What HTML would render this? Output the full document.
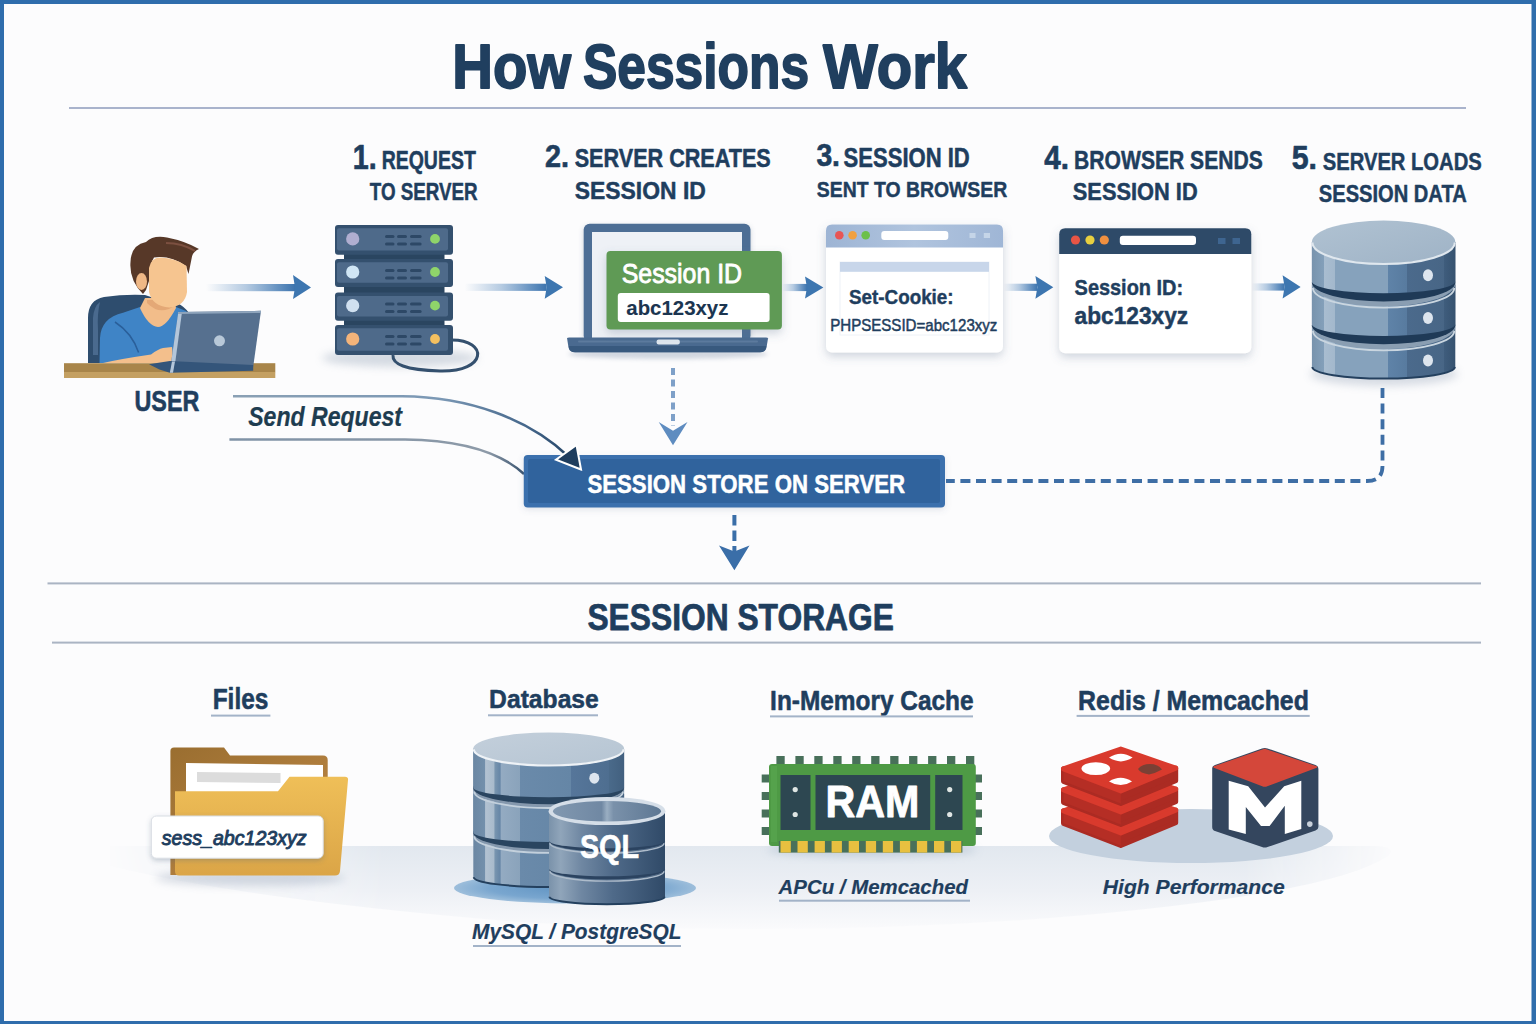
<!DOCTYPE html>
<html><head><meta charset="utf-8"><title>How Sessions Work</title>
<style>
html,body{margin:0;padding:0;width:1536px;height:1024px;overflow:hidden;background:#fcfcfd;}
svg{display:block;font-family:"Liberation Sans",sans-serif;}
</style></head><body>
<svg width="1536" height="1024" viewBox="0 0 1536 1024">
<defs>
<filter id="blur2" x="-50%" y="-50%" width="200%" height="200%"><feGaussianBlur stdDeviation="2"/></filter>
<filter id="blur4" x="-50%" y="-50%" width="200%" height="200%"><feGaussianBlur stdDeviation="4"/></filter>
<filter id="blur8" x="-50%" y="-50%" width="200%" height="200%"><feGaussianBlur stdDeviation="8"/></filter>
<filter id="blur14" x="-50%" y="-50%" width="200%" height="200%"><feGaussianBlur stdDeviation="14"/></filter>
<filter id="shadow" x="-20%" y="-20%" width="140%" height="150%"><feDropShadow dx="0" dy="4" stdDeviation="5" flood-color="#5a6f8a" flood-opacity="0.28"/></filter>
<filter id="shadowSoft" x="-20%" y="-20%" width="140%" height="150%"><feDropShadow dx="0" dy="2" stdDeviation="3" flood-color="#5a6f8a" flood-opacity="0.18"/></filter>
<filter id="shadowS" x="-20%" y="-20%" width="140%" height="150%"><feDropShadow dx="0" dy="2" stdDeviation="2.5" flood-color="#4a5f7a" flood-opacity="0.3"/></filter>
<linearGradient id="arrowG" x1="0" y1="0" x2="1" y2="0">
 <stop offset="0" stop-color="#4a80b8" stop-opacity="0"/>
 <stop offset="0.45" stop-color="#4a80b8" stop-opacity="0.4"/>
 <stop offset="0.8" stop-color="#4279b3" stop-opacity="0.8"/>
 <stop offset="1" stop-color="#3d74ae" stop-opacity="1"/>
</linearGradient>
<linearGradient id="dbG" x1="0" y1="0" x2="1" y2="0">
 <stop offset="0" stop-color="#7893ad"/>
 <stop offset="0.085" stop-color="#84a0ba"/>
 <stop offset="0.086" stop-color="#a9bdd0"/>
 <stop offset="0.16" stop-color="#a3b8cc"/>
 <stop offset="0.161" stop-color="#86a2bc"/>
 <stop offset="0.53" stop-color="#86a2bc"/>
 <stop offset="0.531" stop-color="#5f83a8"/>
 <stop offset="0.66" stop-color="#587b9f"/>
 <stop offset="0.661" stop-color="#4b6a8c"/>
 <stop offset="0.92" stop-color="#486686"/>
 <stop offset="0.921" stop-color="#3f5d7d"/>
 <stop offset="1" stop-color="#36526f"/>
</linearGradient>
<linearGradient id="dbG2" x1="0" y1="0" x2="1" y2="0">
 <stop offset="0" stop-color="#6b87a3"/>
 <stop offset="0.08" stop-color="#7390ac"/>
 <stop offset="0.081" stop-color="#b2c2d2"/>
 <stop offset="0.14" stop-color="#a8bacb"/>
 <stop offset="0.141" stop-color="#7a96b0"/>
 <stop offset="0.18" stop-color="#6585a6"/>
 <stop offset="0.181" stop-color="#94abc2"/>
 <stop offset="0.31" stop-color="#8aa3bb"/>
 <stop offset="0.311" stop-color="#6a8aaa"/>
 <stop offset="0.65" stop-color="#6586a6"/>
 <stop offset="0.651" stop-color="#56769a"/>
 <stop offset="0.9" stop-color="#4e6e90"/>
 <stop offset="0.901" stop-color="#4a6a8a"/>
 <stop offset="1" stop-color="#42607f"/>
</linearGradient>
<linearGradient id="dbTopG2" x1="0" y1="0" x2="1" y2="1">
 <stop offset="0" stop-color="#c3cfdb"/>
 <stop offset="1" stop-color="#b6c5d3"/>
</linearGradient>
<linearGradient id="sqlTopG" x1="0" y1="0" x2="1" y2="0">
 <stop offset="0" stop-color="#8198b0"/>
 <stop offset="0.45" stop-color="#7088a3"/>
 <stop offset="0.5" stop-color="#9aaec2"/>
 <stop offset="0.56" stop-color="#7a91aa"/>
 <stop offset="1" stop-color="#5d7793"/>
</linearGradient>
<linearGradient id="dbTopG" x1="0" y1="0" x2="1" y2="1">
 <stop offset="0" stop-color="#b0c2d2"/>
 <stop offset="1" stop-color="#9fb3c6"/>
</linearGradient>
<linearGradient id="sqlG" x1="0" y1="0" x2="1" y2="0">
 <stop offset="0" stop-color="#7a92aa"/>
 <stop offset="0.1" stop-color="#90a5ba"/>
 <stop offset="0.28" stop-color="#6f87a2"/>
 <stop offset="0.55" stop-color="#4f6a89"/>
 <stop offset="1" stop-color="#304a68"/>
</linearGradient>
<linearGradient id="curveG1" x1="233" y1="0" x2="580" y2="0" gradientUnits="userSpaceOnUse">
 <stop offset="0" stop-color="#8aa0b4"/>
 <stop offset="0.6" stop-color="#7b98b5"/>
 <stop offset="0.85" stop-color="#44668a"/>
 <stop offset="1" stop-color="#1e3d5e"/>
</linearGradient>
<linearGradient id="curveG2" x1="229" y1="0" x2="523" y2="0" gradientUnits="userSpaceOnUse">
 <stop offset="0" stop-color="#7f92a6"/>
 <stop offset="0.88" stop-color="#8d9aa8"/>
 <stop offset="1" stop-color="#3a5470"/>
</linearGradient>
<linearGradient id="platG" x1="0" y1="0" x2="0" y2="1">
 <stop offset="0" stop-color="#e3e9f0"/>
 <stop offset="1" stop-color="#fcfcfd" stop-opacity="0"/>
</linearGradient>
<linearGradient id="b1G" x1="0" y1="0" x2="1" y2="0">
 <stop offset="0" stop-color="#9db4d4"/>
 <stop offset="0.5" stop-color="#b0c4de"/>
 <stop offset="1" stop-color="#9fb6d6"/>
</linearGradient>
<linearGradient id="deskG" x1="0" y1="0" x2="0" y2="1">
 <stop offset="0" stop-color="#b8955a"/>
 <stop offset="0.6" stop-color="#a8864e"/>
 <stop offset="1" stop-color="#c8a468"/>
</linearGradient>
<linearGradient id="folderBackG" x1="0" y1="0" x2="1" y2="1">
 <stop offset="0" stop-color="#9a6e30"/>
 <stop offset="1" stop-color="#c08a48"/>
</linearGradient>
<linearGradient id="folderFrontG" x1="0" y1="0" x2="0" y2="1">
 <stop offset="0" stop-color="#efbf58"/>
 <stop offset="1" stop-color="#dba547"/>
</linearGradient>
</defs>
<rect x="0" y="0" width="1536" height="1024" fill="#2f6dac"/>
<rect x="4" y="4" width="1527.5" height="1017" fill="#fcfcfd"/>
<text x="452.3" y="87.6" font-size="63.37" font-weight="bold" font-style="normal" fill="#203f5f" stroke="#203f5f" stroke-width="1.80" stroke-linejoin="round" textLength="118.8" lengthAdjust="spacingAndGlyphs" >How</text>
<text x="583.0" y="87.6" font-size="63.37" font-weight="bold" font-style="normal" fill="#203f5f" stroke="#203f5f" stroke-width="1.80" stroke-linejoin="round" textLength="226.0" lengthAdjust="spacingAndGlyphs" >Sessions</text>
<text x="823.0" y="87.6" font-size="63.37" font-weight="bold" font-style="normal" fill="#203f5f" stroke="#203f5f" stroke-width="1.80" stroke-linejoin="round" textLength="144.0" lengthAdjust="spacingAndGlyphs" >Work</text>
<rect x="69" y="107" width="1397" height="2" fill="#a9b3cc"/>
<text x="352.8" y="168.6" font-size="34.95" font-weight="bold" font-style="normal" fill="#1f3e5e" stroke="#1f3e5e" stroke-width="0.71" stroke-linejoin="round" textLength="23.9" lengthAdjust="spacingAndGlyphs" >1.</text>
<text x="381.7" y="168.7" font-size="25.78" font-weight="bold" font-style="normal" fill="#1f3e5e" stroke="#1f3e5e" stroke-width="0.52" stroke-linejoin="round" textLength="94.1" lengthAdjust="spacingAndGlyphs" >REQUEST</text>
<text x="369.8" y="199.8" font-size="23.49" font-weight="bold" font-style="normal" fill="#1f3e5e" stroke="#1f3e5e" stroke-width="0.48" stroke-linejoin="round" textLength="107.9" lengthAdjust="spacingAndGlyphs" >TO SERVER</text>
<text x="544.9" y="167.2" font-size="30.80" font-weight="bold" font-style="normal" fill="#1f3e5e" stroke="#1f3e5e" stroke-width="0.63" stroke-linejoin="round" textLength="24.0" lengthAdjust="spacingAndGlyphs" >2.</text>
<text x="574.7" y="166.7" font-size="25.78" font-weight="bold" font-style="normal" fill="#1f3e5e" stroke="#1f3e5e" stroke-width="0.52" stroke-linejoin="round" textLength="196.1" lengthAdjust="spacingAndGlyphs" >SERVER CREATES</text>
<text x="574.8" y="198.8" font-size="24.35" font-weight="bold" font-style="normal" fill="#1f3e5e" stroke="#1f3e5e" stroke-width="0.49" stroke-linejoin="round" textLength="131.0" lengthAdjust="spacingAndGlyphs" >SESSION ID</text>
<text x="816.4" y="166.3" font-size="31.51" font-weight="bold" font-style="normal" fill="#1f3e5e" stroke="#1f3e5e" stroke-width="0.64" stroke-linejoin="round" textLength="23.6" lengthAdjust="spacingAndGlyphs" >3.</text>
<text x="843.6" y="166.7" font-size="27.21" font-weight="bold" font-style="normal" fill="#1f3e5e" stroke="#1f3e5e" stroke-width="0.55" stroke-linejoin="round" textLength="126.2" lengthAdjust="spacingAndGlyphs" >SESSION ID</text>
<text x="816.8" y="196.8" font-size="22.92" font-weight="bold" font-style="normal" fill="#1f3e5e" stroke="#1f3e5e" stroke-width="0.47" stroke-linejoin="round" textLength="190.4" lengthAdjust="spacingAndGlyphs" >SENT TO BROWSER</text>
<text x="1044.3" y="168.7" font-size="32.94" font-weight="bold" font-style="normal" fill="#1f3e5e" stroke="#1f3e5e" stroke-width="0.67" stroke-linejoin="round" textLength="24.7" lengthAdjust="spacingAndGlyphs" >4.</text>
<text x="1074.1" y="168.7" font-size="25.78" font-weight="bold" font-style="normal" fill="#1f3e5e" stroke="#1f3e5e" stroke-width="0.52" stroke-linejoin="round" textLength="188.7" lengthAdjust="spacingAndGlyphs" >BROWSER SENDS</text>
<text x="1072.8" y="199.8" font-size="23.49" font-weight="bold" font-style="normal" fill="#1f3e5e" stroke="#1f3e5e" stroke-width="0.48" stroke-linejoin="round" textLength="124.9" lengthAdjust="spacingAndGlyphs" >SESSION ID</text>
<text x="1291.7" y="169.2" font-size="32.66" font-weight="bold" font-style="normal" fill="#1f3e5e" stroke="#1f3e5e" stroke-width="0.66" stroke-linejoin="round" textLength="25.3" lengthAdjust="spacingAndGlyphs" >5.</text>
<text x="1322.8" y="169.8" font-size="23.78" font-weight="bold" font-style="normal" fill="#1f3e5e" stroke="#1f3e5e" stroke-width="0.48" stroke-linejoin="round" textLength="158.9" lengthAdjust="spacingAndGlyphs" >SERVER LOADS</text>
<text x="1318.8" y="201.6" font-size="23.06" font-weight="bold" font-style="normal" fill="#1f3e5e" stroke="#1f3e5e" stroke-width="0.47" stroke-linejoin="round" textLength="147.9" lengthAdjust="spacingAndGlyphs" >SESSION DATA</text>
<rect x="206" y="284.0" width="89" height="7.2" fill="url(#arrowG)"/>
<polygon points="293,275 311,287.6 293,299 295,287.6" fill="#3d76b0"/>
<rect x="464.7" y="283.7" width="82.00000000000006" height="7.2" fill="url(#arrowG)"/>
<polygon points="544.7,276 563,287.3 544.7,298.8 546.7,287.3" fill="#3d76b0"/>
<rect x="782" y="283.9" width="25" height="7.2" fill="url(#arrowG)"/>
<polygon points="805,276.5 823.4,287.5 805,298.4 807,287.5" fill="#3d76b0"/>
<rect x="1003.7" y="283.7" width="33.700000000000045" height="7.2" fill="url(#arrowG)"/>
<polygon points="1035.4,276 1053.3,287.3 1035.4,298.7 1037.4,287.3" fill="#3d76b0"/>
<rect x="1251.7" y="283.4" width="32.899999999999864" height="7.2" fill="url(#arrowG)"/>
<polygon points="1282.6,275.2 1300.6,287 1282.6,298.6 1284.6,287" fill="#3d76b0"/>
<g id="user">
<path d="M88 363 L88 318 Q88 300 104 297 Q125 294 145 295 L160 300 Q180 300 189 313 L189 363 Z" fill="#2e4d6e"/>
<path d="M93 355 L93 318 Q94 306 100 302 Q97 314 98 330 L98 355 Z" fill="#4a6a8e"/>
<path d="M99.5 363 L100 338 Q101 318 123 312.8 L140 307 Q158 322 176 307 L186 311 Q194 320 190 345 L188 363 Z" fill="#3f84c6"/>
<path d="M115 322 Q132 333 138.6 352.5" stroke="#2a5f9a" stroke-width="1.5" fill="none"/>
<path d="M145 298 L174 298 L176 308 Q166 327 158 327 Q148 326 140 308 Z" fill="#f2bd8a"/>
<path d="M147 303 Q160 316 174 306 L174 300 L147 300 Z" fill="#e0a270" opacity="0.8"/>
<path d="M103 363 Q120 359 151 354.5 Q158 349 163 348 L172 347 L174 363 Z" fill="#f3bf8c"/>
<path d="M143 294 Q129 280 130.5 262 Q131 245 146 242 Q153 235 167 237.5 Q185 241 199 249 Q192 252 191.5 259 L188.5 274 L186 266 Q170 255 154 257.5 Q150 263 149 281 L146 290 Z" fill="#573828"/>
<path d="M166 243 Q182 243 195 251" stroke="#7c5040" stroke-width="2" fill="none"/>
<path d="M149 268 Q151 257.5 160 257.5 Q176 258 186.5 266 L187 292 Q185 306 169.4 307.6 Q152 306 149 292 Z" fill="#f6c590"/>
<ellipse cx="141.5" cy="281.6" rx="5.5" ry="8.5" fill="#efb886"/>
<rect x="64" y="363.2" width="211.3" height="9" fill="#a8854a"/>
<rect x="64" y="372" width="211.3" height="6" fill="#c4a062"/>
<polygon points="178.3,312.1 261,310.8 253.2,366.8 169.8,372" fill="#56708f"/>
<polygon points="169.8,372 178.3,312.1 182,312 174,371.5" fill="#b4c6da"/>
<polygon points="178.3,312.1 261,310.8 261,313 178,314" fill="#8ea4bc"/>
<polygon points="149,364.2 169.8,361 253.2,364.9 253.2,370.7 169.8,372.7 159.4,369.4" fill="#34557a"/>
<polygon points="169.8,372.7 172,361.5 175,361.5 173,372.7" fill="#b4c6da"/>
<ellipse cx="219.5" cy="340.8" rx="5.5" ry="5.5" fill="#b8c8d8"/>
</g>
<text x="134.5" y="411.4" font-size="28.65" font-weight="bold" font-style="normal" fill="#1f3e5e" stroke="#1f3e5e" stroke-width="0.58" stroke-linejoin="round" textLength="64.9" lengthAdjust="spacingAndGlyphs" >USER</text>
<ellipse cx="400" cy="358" rx="78" ry="9" fill="#8a9bb0" opacity="0.35" filter="url(#blur4)"/>
<path d="M452 340 C488 340 488 372 440 371 C405 370 392 364 393 355" stroke="#34506e" stroke-width="3" fill="none"/>
<rect x="344" y="252.8" width="100.5" height="8.199999999999989" fill="#2a4560"/>
<rect x="344" y="285" width="100.5" height="9.600000000000023" fill="#2a4560"/>
<rect x="344" y="318.7" width="100.5" height="8.300000000000011" fill="#2a4560"/>
<rect x="335" y="225" width="118" height="29.80000000000001" rx="3" fill="#34506e"/>
<rect x="337" y="228.3" width="111" height="22.30000000000001" rx="2" fill="#4e6a8a"/>
<circle cx="352.7" cy="238.9" r="6.6" fill="#b0aed0"/>
<circle cx="435" cy="238.9" r="4.9" fill="#8fd46a"/>
<rect x="385" y="235" width="9.5" height="3" rx="1.5" fill="#2d4866"/>
<rect x="385" y="242.5" width="9.5" height="3" rx="1.5" fill="#2d4866"/>
<rect x="397" y="235" width="10" height="3" rx="1.5" fill="#2d4866"/>
<rect x="397" y="242.5" width="10" height="3" rx="1.5" fill="#2d4866"/>
<rect x="410" y="235" width="11.600000000000023" height="3" rx="1.5" fill="#2d4866"/>
<rect x="410" y="242.5" width="11.600000000000023" height="3" rx="1.5" fill="#2d4866"/>
<rect x="335" y="259" width="118" height="28" rx="3" fill="#34506e"/>
<rect x="337" y="262.3" width="111" height="20.5" rx="2" fill="#4e6a8a"/>
<circle cx="352.7" cy="272.0" r="6.6" fill="#d0e6f5"/>
<circle cx="435" cy="272.0" r="4.9" fill="#8fd46a"/>
<rect x="385" y="269" width="9.5" height="3" rx="1.5" fill="#2d4866"/>
<rect x="385" y="276.5" width="9.5" height="3" rx="1.5" fill="#2d4866"/>
<rect x="397" y="269" width="10" height="3" rx="1.5" fill="#2d4866"/>
<rect x="397" y="276.5" width="10" height="3" rx="1.5" fill="#2d4866"/>
<rect x="410" y="269" width="11.600000000000023" height="3" rx="1.5" fill="#2d4866"/>
<rect x="410" y="276.5" width="11.600000000000023" height="3" rx="1.5" fill="#2d4866"/>
<rect x="335" y="292.6" width="118" height="28.099999999999966" rx="3" fill="#34506e"/>
<rect x="337" y="295.90000000000003" width="111" height="20.599999999999966" rx="2" fill="#4e6a8a"/>
<circle cx="352.7" cy="305.65" r="6.6" fill="#d0e0f0"/>
<circle cx="435" cy="305.65" r="4.9" fill="#8fd46a"/>
<rect x="385" y="302.6" width="9.5" height="3" rx="1.5" fill="#2d4866"/>
<rect x="385" y="310.1" width="9.5" height="3" rx="1.5" fill="#2d4866"/>
<rect x="397" y="302.6" width="10" height="3" rx="1.5" fill="#2d4866"/>
<rect x="397" y="310.1" width="10" height="3" rx="1.5" fill="#2d4866"/>
<rect x="410" y="302.6" width="11.600000000000023" height="3" rx="1.5" fill="#2d4866"/>
<rect x="410" y="310.1" width="11.600000000000023" height="3" rx="1.5" fill="#2d4866"/>
<rect x="335" y="325" width="118" height="30" rx="3" fill="#34506e"/>
<rect x="337" y="328.3" width="111" height="22.5" rx="2" fill="#4e6a8a"/>
<circle cx="352.7" cy="339.0" r="6.6" fill="#f4b47a"/>
<circle cx="435" cy="339.0" r="4.9" fill="#f4c060"/>
<rect x="385" y="335" width="9.5" height="3" rx="1.5" fill="#2d4866"/>
<rect x="385" y="342.5" width="9.5" height="3" rx="1.5" fill="#2d4866"/>
<rect x="397" y="335" width="10" height="3" rx="1.5" fill="#2d4866"/>
<rect x="397" y="342.5" width="10" height="3" rx="1.5" fill="#2d4866"/>
<rect x="410" y="335" width="11.600000000000023" height="3" rx="1.5" fill="#2d4866"/>
<rect x="410" y="342.5" width="11.600000000000023" height="3" rx="1.5" fill="#2d4866"/>
<g filter="url(#shadowS)">
<rect x="583.7" y="223.7" width="166.8" height="118" rx="6" fill="#4d6e95"/>
</g>
<rect x="592" y="232" width="150" height="108" fill="#eef1f6"/>
<ellipse cx="668" cy="354" rx="100" ry="5" fill="#8090a8" opacity="0.35" filter="url(#blur2)"/>
<path d="M567 337.9 Q567 337.6 569 337.6 L766 337.6 Q768 337.6 768 338.5 L766.5 347.5 Q765.5 352.2 760 352.2 L575 352.2 Q569.5 352.2 568.5 347.5 Z" fill="#4a6a90"/>
<path d="M568.8 346 L766.3 346 L765.8 348.5 Q764.8 352.2 760 352.2 L575 352.2 Q570 352.2 569.2 348.5 Z" fill="#38597e"/>
<rect x="578" y="340.5" width="180" height="2" rx="1" fill="#6a87a8" opacity="0.6"/>
<rect x="656.6" y="339.5" width="23.2" height="5" rx="2" fill="#dfe6ee"/>
<g filter="url(#shadow)"><rect x="606.5" y="251" width="175.4" height="78.4" rx="4" fill="#5e9a55"/></g>
<rect x="617.8" y="293" width="151.8" height="29" rx="3" fill="#ffffff"/>
<text x="621.7" y="282.6" font-size="27.30" font-weight="normal" font-style="normal" fill="#ffffff" stroke="#ffffff" stroke-width="0.84" stroke-linejoin="round" textLength="120.4" lengthAdjust="spacingAndGlyphs" >Session ID</text>
<text x="626.3" y="314.8" font-size="20.34" font-weight="bold" font-style="normal" fill="#1b3550" stroke="#1b3550" stroke-width="0.10" stroke-linejoin="round" textLength="102.1" lengthAdjust="spacingAndGlyphs" >abc123xyz</text>
<line x1="673" y1="368" x2="673" y2="426" stroke="#7ea0c8" stroke-width="4" stroke-dasharray="7 4.5"/>
<polygon points="658.7,422 673,445.2 687.5,422 673,430.8" fill="#5e8cc0"/>
<g filter="url(#shadow)"><rect x="826" y="224.6" width="177" height="127.8" rx="6" fill="#ffffff"/></g>
<path d="M826 247.4 L826 230.6 Q826 224.6 832 224.6 L997 224.6 Q1003 224.6 1003 230.6 L1003 247.4 Z" fill="url(#b1G)"/>
<circle cx="839.3" cy="235.2" r="4.3" fill="#e85555"/>
<circle cx="852.6" cy="235.2" r="4.3" fill="#f0a040"/>
<circle cx="865.7" cy="235.2" r="4.3" fill="#6cc04a"/>
<rect x="881.3" y="231" width="67" height="9" rx="3" fill="#ffffff"/>
<rect x="969.5" y="233" width="6" height="5" fill="#c5d5e8"/>
<rect x="983.8" y="233" width="6.2" height="5" fill="#c5d5e8"/>
<rect x="840" y="262" width="149" height="73" fill="none" stroke="#eef2f7" stroke-width="1"/>
<rect x="840" y="262" width="149" height="9.8" fill="#c8d6ea"/>
<text x="849.0" y="304.2" font-size="19.77" font-weight="bold" font-style="normal" fill="#1f3e5e" stroke="#1f3e5e" stroke-width="0.40" stroke-linejoin="round" textLength="104.6" lengthAdjust="spacingAndGlyphs" >Set-Cookie:</text>
<text x="830.2" y="330.5" font-size="16.78" font-weight="normal" font-style="normal" fill="#1f3e5e" stroke="#1f3e5e" stroke-width="0.51" stroke-linejoin="round" textLength="167.2" lengthAdjust="spacingAndGlyphs" >PHPSESSID=abc123xyz</text>
<g filter="url(#shadow)"><rect x="1059.2" y="228.2" width="192.1" height="125" rx="6" fill="#ffffff"/></g>
<path d="M1059.2 254 L1059.2 234.2 Q1059.2 228.2 1065.2 228.2 L1245.3 228.2 Q1251.3 228.2 1251.3 234.2 L1251.3 254 Z" fill="#2e4a68"/>
<circle cx="1075.5" cy="240" r="4.6" fill="#e85545"/>
<circle cx="1090" cy="240" r="4.6" fill="#e8d040"/>
<circle cx="1104.3" cy="240" r="4.6" fill="#f09040"/>
<rect x="1119.8" y="235.7" width="76.2" height="9.3" rx="3" fill="#ffffff"/>
<rect x="1218" y="238" width="7.5" height="6" fill="#3e6590"/>
<rect x="1232.5" y="238" width="7.5" height="6" fill="#3e6590"/>
<text x="1074.6" y="294.8" font-size="22.92" font-weight="bold" font-style="normal" fill="#1f3e5e" stroke="#1f3e5e" stroke-width="0.47" stroke-linejoin="round" textLength="108.5" lengthAdjust="spacingAndGlyphs" >Session ID:</text>
<text x="1074.6" y="323.8" font-size="24.47" font-weight="bold" font-style="normal" fill="#1f3e5e" stroke="#1f3e5e" stroke-width="0.50" stroke-linejoin="round" textLength="113.5" lengthAdjust="spacingAndGlyphs" >abc123xyz</text>
<ellipse cx="1384" cy="374" rx="74" ry="12" fill="#7f90a8" opacity="0.3" filter="url(#blur4)"/>
<path d="M1311.8999999999999 284.7 L1311.8999999999999 367.0 A71.7 11.6 0 0 0 1455.3 367.0 L1455.3 284.7 Z" fill="url(#dbG)"/>
<path d="M1312.3999999999999 367.0 A71.2 11.6 0 0 0 1454.8 367.0" stroke="#24405e" stroke-width="2" fill="none"/>
<ellipse cx="1383.6" cy="326.50" rx="71.7" ry="22.70" fill="#8a9eb2"/>
<ellipse cx="1383.6" cy="325.20" rx="71.7" ry="19.00" fill="#1f3a57"/>
<path d="M1312.8999999999999 330.70 A70.7 19.60 0 0 0 1454.3 330.70" stroke="#cad6e0" stroke-width="1.8" fill="none"/>
<ellipse cx="1428" cy="360.6" rx="5" ry="6" fill="#dde5ee"/>
<path d="M1311.8999999999999 242.0 L1311.8999999999999 324.3 A71.7 11.6 0 0 0 1455.3 324.3 L1455.3 242.0 Z" fill="url(#dbG)"/>
<ellipse cx="1383.6" cy="283.80" rx="71.7" ry="22.70" fill="#8a9eb2"/>
<ellipse cx="1383.6" cy="282.50" rx="71.7" ry="19.00" fill="#1f3a57"/>
<path d="M1312.8999999999999 288.00 A70.7 19.60 0 0 0 1454.3 288.00" stroke="#cad6e0" stroke-width="1.8" fill="none"/>
<ellipse cx="1428" cy="317.9" rx="5" ry="6" fill="#dde5ee"/>
<path d="M1311.8999999999999 242.0 L1311.8999999999999 281.6 A71.7 11.6 0 0 0 1455.3 281.6 L1455.3 242.0 Z" fill="url(#dbG)"/>
<ellipse cx="1383.6" cy="242.0" rx="71.7" ry="21.5" fill="url(#dbTopG)"/>
<path d="M1312.3999999999999 242.5 A71.2 21.5 0 0 0 1454.8 242.5" stroke="#dfe7ee" stroke-width="2.2" fill="none"/>
<ellipse cx="1428" cy="275.2" rx="5" ry="6" fill="#dde5ee"/>
<path d="M1382.5 388 L1382.5 466 Q1382.5 481 1367 481 L946 481" stroke="#3e6ea5" stroke-width="3.8" fill="none" stroke-dasharray="10 5.6"/>
<path d="M229.4 439.4 L405 439.4 C455 440 498 450 524 474" stroke="url(#curveG2)" stroke-width="2.5" fill="none"/>
<g filter="url(#shadowSoft)"><rect x="523.75" y="455" width="421.25" height="52.5" rx="4" fill="#3a70ad"/></g>
<rect x="528" y="459" width="412" height="44" rx="2" fill="#30639d"/>
<text x="587.4" y="492.5" font-size="25.78" font-weight="bold" font-style="normal" fill="#ffffff" stroke="#ffffff" stroke-width="0.52" stroke-linejoin="round" textLength="317.7" lengthAdjust="spacingAndGlyphs" >SESSION STORE ON SERVER</text>
<path d="M233 396.3 L402 396.3 C468 397 528 418 569 457" stroke="url(#curveG1)" stroke-width="2.6" fill="none"/>
<polygon points="581,469.5 556,459.7 576.5,445" fill="#1e3d5e" stroke="#ffffff" stroke-width="2" stroke-linejoin="miter"/>
<text x="248.2" y="425.9" font-size="26.73" font-weight="bold" font-style="italic" fill="#1e3c50" stroke="#1e3c50" stroke-width="0.22" stroke-linejoin="round" textLength="153.8" lengthAdjust="spacingAndGlyphs" >Send Request</text>
<line x1="734.4" y1="515" x2="734.4" y2="552" stroke="#3a6ea8" stroke-width="4" stroke-dasharray="10.5 5"/>
<polygon points="719,545.5 734.4,570.3 749.5,545.5 734.4,551.5" fill="#3a6ea8"/>
<rect x="47.5" y="582.4" width="1433.5" height="2" fill="#aab4c3"/>
<rect x="52" y="641.6" width="1429" height="2" fill="#aab4c3"/>
<text x="587.4" y="630.1" font-size="36.95" font-weight="bold" font-style="normal" fill="#1f3e5e" stroke="#1f3e5e" stroke-width="0.75" stroke-linejoin="round" textLength="306.5" lengthAdjust="spacingAndGlyphs" >SESSION STORAGE</text>
<defs><linearGradient id="platMaskG" x1="100" y1="0" x2="1400" y2="0" gradientUnits="userSpaceOnUse"><stop offset="0" stop-color="#000"/><stop offset="0.22" stop-color="#fff"/><stop offset="0.88" stop-color="#fff"/><stop offset="1" stop-color="#000"/></linearGradient>
<mask id="platMask" maskUnits="userSpaceOnUse" x="0" y="800" width="1536" height="200"><rect x="0" y="800" width="1536" height="200" fill="url(#platMaskG)"/></mask>
<linearGradient id="platG2" x1="0" y1="846" x2="0" y2="935" gradientUnits="userSpaceOnUse"><stop offset="0" stop-color="#e2e8ef"/><stop offset="0.5" stop-color="#edf0f5"/><stop offset="1" stop-color="#fcfcfd"/></linearGradient></defs>
<path d="M110 846 L1375 846 Q1398 847 1388 856 Q1330 895 1050 918 Q780 938 520 922 Q250 900 110 866 Z" fill="url(#platG2)" mask="url(#platMask)"/>
<text x="212.7" y="709.0" font-size="29.08" font-weight="bold" font-style="normal" fill="#1f3e5e" stroke="#1f3e5e" stroke-width="0.59" stroke-linejoin="round" textLength="55.7" lengthAdjust="spacingAndGlyphs" >Files</text>
<rect x="211" y="714.6" width="59.39999999999998" height="2" fill="#a3b3c8"/>
<text x="489.1" y="707.9" font-size="26.36" font-weight="bold" font-style="normal" fill="#1f3e5e" stroke="#1f3e5e" stroke-width="0.53" stroke-linejoin="round" textLength="109.7" lengthAdjust="spacingAndGlyphs" >Database</text>
<rect x="488" y="714.3" width="110" height="2" fill="#a3b3c8"/>
<text x="770.1" y="710.0" font-size="27.93" font-weight="bold" font-style="normal" fill="#1f3e5e" stroke="#1f3e5e" stroke-width="0.57" stroke-linejoin="round" textLength="203.5" lengthAdjust="spacingAndGlyphs" >In-Memory Cache</text>
<rect x="770" y="715.4" width="203" height="2" fill="#a3b3c8"/>
<text x="1078.1" y="710.0" font-size="28.07" font-weight="bold" font-style="normal" fill="#1f3e5e" stroke="#1f3e5e" stroke-width="0.57" stroke-linejoin="round" textLength="230.8" lengthAdjust="spacingAndGlyphs" >Redis / Memcached</text>
<rect x="1076.6" y="714.9" width="233.10000000000014" height="2" fill="#a3b3c8"/>
<ellipse cx="250" cy="878" rx="95" ry="8" fill="#8090a8" opacity="0.3" filter="url(#blur4)"/>
<path d="M170.4 875 L170.4 751 Q170.4 747.5 174 747.5 L224 747.5 L230 755.4 L323 755.4 Q327.7 755.4 327.7 760 L327.7 875 Z" fill="url(#folderBackG)"/>
<polygon points="186,763 323,765 323,800 186,800" fill="#ffffff"/>
<polygon points="197,772 280.5,773 280.5,783 197,782" fill="#dcdcdc"/>
<path d="M175 791.3 L278 791.3 L289.5 776.7 L345 776.7 Q348.5 776.7 348 780 L340 871 Q339.5 875.5 335 875.5 L179 875.5 Q175 875.5 175 871 Z" fill="url(#folderFrontG)"/>
<g filter="url(#shadowS)"><rect x="151.3" y="816" width="171.9" height="42.2" rx="5" fill="#ffffff" stroke="#d8dde4" stroke-width="1"/></g>
<text x="161.8" y="844.8" font-size="19.48" font-weight="normal" font-style="italic" fill="#1f3e5e" stroke="#1f3e5e" stroke-width="0.90" stroke-linejoin="round" textLength="144.8" lengthAdjust="spacingAndGlyphs" >sess_abc123xyz</text>
<defs><radialGradient id="blueSh" cx="0.5" cy="0.5" r="0.5"><stop offset="0" stop-color="#5f93c2"/><stop offset="0.7" stop-color="#79a6cf"/><stop offset="1" stop-color="#9dbedb"/></radialGradient></defs><ellipse cx="575" cy="888" rx="121" ry="15.5" fill="url(#blueSh)"/>
<path d="M473.30000000000007 793.6999999999999 L473.30000000000007 877.1999999999999 A75.4 9.8 0 0 0 624.1 877.1999999999999 L624.1 793.6999999999999 Z" fill="url(#dbG2)"/>
<path d="M473.80000000000007 877.1999999999999 A74.9 9.8 0 0 0 623.6 877.1999999999999" stroke="#24405e" stroke-width="2" fill="none"/>
<ellipse cx="548.7" cy="833.80" rx="75.4" ry="18.30" fill="#8598ad"/>
<ellipse cx="548.7" cy="832.80" rx="75.4" ry="16.30" fill="#2a4560"/>
<path d="M474.30000000000007 836.30 A74.4 16.60 0 0 0 623.1 836.30" stroke="#c3d0dc" stroke-width="1.8" fill="none"/>
<ellipse cx="594.3" cy="868" rx="5" ry="5.5" fill="#dde5ee"/>
<path d="M473.30000000000007 748.8 L473.30000000000007 832.3 A75.4 9.8 0 0 0 624.1 832.3 L624.1 748.8 Z" fill="url(#dbG2)"/>
<ellipse cx="548.7" cy="788.90" rx="75.4" ry="18.30" fill="#8598ad"/>
<ellipse cx="548.7" cy="787.90" rx="75.4" ry="16.30" fill="#2a4560"/>
<path d="M474.30000000000007 791.40 A74.4 16.60 0 0 0 623.1 791.40" stroke="#c3d0dc" stroke-width="1.8" fill="none"/>
<ellipse cx="594.3" cy="823.1" rx="5" ry="5.5" fill="#dde5ee"/>
<path d="M473.30000000000007 748.8 L473.30000000000007 787.4 A75.4 9.8 0 0 0 624.1 787.4 L624.1 748.8 Z" fill="url(#dbG2)"/>
<ellipse cx="548.7" cy="748.8" rx="75.4" ry="16.2" fill="url(#dbTopG2)"/>
<path d="M473.80000000000007 749.3 A74.9 16.2 0 0 0 623.6 749.3" stroke="#eef2f6" stroke-width="2.2" fill="none"/>
<ellipse cx="594.3" cy="778.2" rx="5" ry="5.5" fill="#dde5ee"/>
<path d="M549 838.3 L549 896.8 A58 7.5 0 0 0 665 896.8 L665 838.3 Z" fill="url(#sqlG)"/>
<path d="M549.5 896.8 A57.5 7.5 0 0 0 664.5 896.8" stroke="#24405e" stroke-width="2" fill="none"/>
<ellipse cx="607" cy="869.30" rx="58" ry="11.00" fill="#5f7893"/>
<ellipse cx="607" cy="869.10" rx="58" ry="10.40" fill="#2b4360"/>
<path d="M550 871.30 A57 9.80 0 0 0 664 871.30" stroke="#aebccb" stroke-width="1.4" fill="none"/>
<path d="M549 810.3 L549 868.8 A58 7.5 0 0 0 665 868.8 L665 810.3 Z" fill="url(#sqlG)"/>
<ellipse cx="607" cy="841.30" rx="58" ry="11.00" fill="#5f7893"/>
<ellipse cx="607" cy="841.10" rx="58" ry="10.40" fill="#2b4360"/>
<path d="M550 843.30 A57 9.80 0 0 0 664 843.30" stroke="#aebccb" stroke-width="1.4" fill="none"/>
<path d="M549 810.3 L549 840.8 A58 7.5 0 0 0 665 840.8 L665 810.3 Z" fill="url(#sqlG)"/>
<ellipse cx="607" cy="810.3" rx="58" ry="13.2" fill="#d5dee8"/>
<path d="M549.5 810.8 A57.5 13.2 0 0 0 664.5 810.8" stroke="#d5dee8" stroke-width="2.2" fill="none"/>
<ellipse cx="607" cy="811.3" rx="54" ry="10.3" fill="url(#sqlTopG)"/>
<text x="579.9" y="858.0" font-size="32.56" font-weight="bold" font-style="normal" fill="#ffffff" stroke="#ffffff" stroke-width="0.60" stroke-linejoin="round" textLength="59.1" lengthAdjust="spacingAndGlyphs" >SQL</text>
<text x="472.1" y="938.9" font-size="22.54" font-weight="bold" font-style="italic" fill="#1f3e5e" stroke="#1f3e5e" stroke-width="0.18" stroke-linejoin="round" textLength="209.4" lengthAdjust="spacingAndGlyphs" >MySQL / PostgreSQL</text>
<rect x="473" y="945" width="208" height="2" fill="#a3b3c8"/>
<ellipse cx="872" cy="850" rx="105" ry="7" fill="#8aa0b8" opacity="0.35" filter="url(#blur4)"/>
<rect x="776.4" y="756" width="8.3" height="10" fill="#48705a"/>
<rect x="795.4" y="756" width="8.3" height="10" fill="#48705a"/>
<rect x="814.3" y="756" width="8.3" height="10" fill="#48705a"/>
<rect x="833.3" y="756" width="8.3" height="10" fill="#48705a"/>
<rect x="852.2" y="756" width="8.3" height="10" fill="#48705a"/>
<rect x="871.2" y="756" width="8.3" height="10" fill="#48705a"/>
<rect x="890.2" y="756" width="8.3" height="10" fill="#48705a"/>
<rect x="909.1" y="756" width="8.3" height="10" fill="#48705a"/>
<rect x="928.1" y="756" width="8.3" height="10" fill="#48705a"/>
<rect x="947.0" y="756" width="8.3" height="10" fill="#48705a"/>
<rect x="966.0" y="756" width="8.3" height="10" fill="#48705a"/>
<rect x="761.7" y="774.5" width="9" height="8" fill="#48705a"/>
<rect x="974" y="774.5" width="8" height="8" fill="#48705a"/>
<rect x="761.7" y="792.0" width="9" height="8" fill="#48705a"/>
<rect x="974" y="792.0" width="8" height="8" fill="#48705a"/>
<rect x="761.7" y="809.5" width="9" height="8" fill="#48705a"/>
<rect x="974" y="809.5" width="8" height="8" fill="#48705a"/>
<rect x="761.7" y="827.0" width="9" height="8" fill="#48705a"/>
<rect x="974" y="827.0" width="8" height="8" fill="#48705a"/>
<rect x="769" y="764" width="206.8" height="82" rx="3" fill="#4e9a45"/>
<rect x="771" y="766" width="6" height="76" fill="#5aa852" opacity="0.6"/>
<rect x="778.8" y="841" width="183.6" height="11.6" fill="#48705a"/>
<rect x="780.5" y="841" width="10.3" height="11.6" fill="#e8c040"/>
<rect x="797.5" y="841" width="10.3" height="11.6" fill="#e8c040"/>
<rect x="814.6" y="841" width="10.3" height="11.6" fill="#e8c040"/>
<rect x="831.6" y="841" width="10.3" height="11.6" fill="#e8c040"/>
<rect x="848.7" y="841" width="10.3" height="11.6" fill="#e8c040"/>
<rect x="865.8" y="841" width="10.3" height="11.6" fill="#e8c040"/>
<rect x="882.8" y="841" width="10.3" height="11.6" fill="#e8c040"/>
<rect x="899.9" y="841" width="10.3" height="11.6" fill="#e8c040"/>
<rect x="916.9" y="841" width="10.3" height="11.6" fill="#e8c040"/>
<rect x="934.0" y="841" width="10.3" height="11.6" fill="#e8c040"/>
<rect x="951.0" y="841" width="10.3" height="11.6" fill="#e8c040"/>
<rect x="780.5" y="775" width="182" height="55" fill="#2d4751"/>
<rect x="810.5" y="775" width="5" height="55" fill="#4e9a45"/>
<rect x="930.2" y="775" width="5" height="55" fill="#4e9a45"/>
<circle cx="795.2" cy="789.6" r="2.6" fill="#dfe6e4"/>
<circle cx="795.2" cy="814.5" r="2.6" fill="#dfe6e4"/>
<circle cx="949.7" cy="789.6" r="2.6" fill="#dfe6e4"/>
<circle cx="949.7" cy="814.5" r="2.6" fill="#dfe6e4"/>
<text x="825.4" y="816.8" font-size="43.69" font-weight="bold" font-style="normal" fill="#ffffff" stroke="#ffffff" stroke-width="0.89" stroke-linejoin="round" textLength="93.9" lengthAdjust="spacingAndGlyphs" >RAM</text>
<text x="778.6" y="893.9" font-size="20.95" font-weight="bold" font-style="italic" fill="#1f3e5e" stroke="#1f3e5e" stroke-width="0.17" stroke-linejoin="round" textLength="189.4" lengthAdjust="spacingAndGlyphs" >APCu / Memcached</text>
<rect x="779" y="899.7" width="191" height="2" fill="#a3b3c8"/>
<ellipse cx="1191" cy="836" rx="142" ry="27" fill="#c3d0de"/>
<polygon points="1063.5,810.8 1120.8,833 1175.7,810.2 1175.7,822.7 1120.8,845.5 1063.5,823.3" fill="#ab2b23" stroke="#ab2b23" stroke-width="5" stroke-linejoin="round"/>
<polygon points="1063.5,812.8 1120.8,835 1120.8,845.5 1063.5,823.3" fill="#b52e25"/>
<polygon points="1063.5,810.8 1120.8,791 1175.7,810.2 1120.8,833" fill="#d93a2d" stroke="#d93a2d" stroke-width="5" stroke-linejoin="round"/>
<polygon points="1063.5,789.8 1120.8,812 1175.7,789.2 1175.7,801.7 1120.8,824.5 1063.5,802.3" fill="#ab2b23" stroke="#ab2b23" stroke-width="5" stroke-linejoin="round"/>
<polygon points="1063.5,791.8 1120.8,814 1120.8,824.5 1063.5,802.3" fill="#b52e25"/>
<polygon points="1063.5,789.8 1120.8,770 1175.7,789.2 1120.8,812" fill="#d93a2d" stroke="#d93a2d" stroke-width="5" stroke-linejoin="round"/>
<polygon points="1063.5,768.8 1120.8,791 1175.7,768.2 1175.7,780.7 1120.8,803.5 1063.5,781.3" fill="#ab2b23" stroke="#ab2b23" stroke-width="5" stroke-linejoin="round"/>
<polygon points="1063.5,770.8 1120.8,793 1120.8,803.5 1063.5,781.3" fill="#b52e25"/>
<polygon points="1063.5,768.8 1120.8,749 1175.7,768.2 1120.8,791" fill="#d93a2d" stroke="#d93a2d" stroke-width="5" stroke-linejoin="round"/>
<ellipse cx="1095.8" cy="768.6" rx="14.3" ry="6.4" fill="#ffffff"/>
<path d="M1109 757.6 Q1120.8 750 1132.6 757.6 Q1120.8 765.2 1109 757.6 Z" fill="#ffffff"/>
<path d="M1109 781.4 Q1120.8 774 1132 781.4 Q1120.8 788.5 1109 781.4 Z" fill="#ffffff"/>
<path d="M1138 769 Q1142 764 1150 764 Q1158 764 1162 769.5 Q1156 773 1149 774.5 Q1140 773 1138 769 Z" fill="#7a4035"/>
<path d="M1212.2 768 Q1212.2 766 1215 765 L1262 748.5 Q1264.7 747.6 1267.5 748.5 L1315.5 765 Q1318.4 766 1318.4 769 L1318.4 827 Q1318.4 829.5 1315.5 830.5 L1267.5 847 Q1264.7 848 1262 847 L1215 831 Q1212.2 830 1212.2 827 Z" fill="#34465e"/>
<path d="M1214 767 L1264.7 749.5 L1316.5 767 L1267 785.5 Q1264.7 786.5 1262.5 785.5 Z" fill="#d4473a" stroke="#d4473a" stroke-width="1.5" stroke-linejoin="round"/>
<path d="M1228.7 780.8 L1248.2 786.3 L1265 807.6 L1284.2 786.3 L1301.3 780.8 L1301.3 829 L1284.8 833.9 L1284.8 805.8 L1269.6 826 L1261 826 L1245.8 807 L1245.8 833.9 L1228.7 829.6 Z" fill="#ffffff"/>
<circle cx="1309.8" cy="824.1" r="2.8" fill="#c8d0da"/>
<text x="1102.8" y="894.4" font-size="20.95" font-weight="bold" font-style="italic" fill="#1f3e5e" stroke="#1f3e5e" stroke-width="0.17" stroke-linejoin="round" textLength="181.9" lengthAdjust="spacingAndGlyphs" >High Performance</text>
</svg>
</body></html>
